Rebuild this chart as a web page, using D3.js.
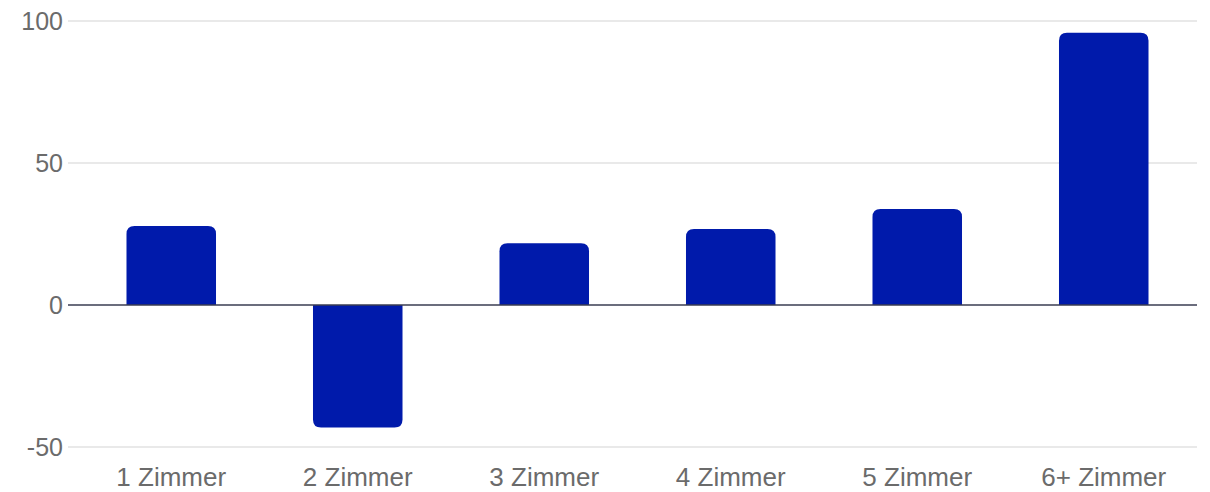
<!DOCTYPE html>
<html>
<head>
<meta charset="utf-8">
<script src="https://cdn.jsdelivr.net/npm/d3@7"></script>
<style>
  html, body { margin: 0; padding: 0; background: #fff; }
  svg { display: block; font-family: "Liberation Sans", Arial, sans-serif; }
</style>
</head>
<body>
<svg id="chart" width="1210" height="492"></svg>
<script>
// Change by number of rooms
const categories = ["1 Zimmer", "2 Zimmer", "3 Zimmer", "4 Zimmer", "5 Zimmer", "6+ Zimmer"];
const values = [27.8, -43.1, 21.7, 26.8, 33.8, 95.9];
const yTicks = [-50, 0, 50, 100];

const svg = d3.select("#chart");
const gridLeft = 68, plotLeft = 78, plotRight = 1197;
const y = d3.scaleLinear().domain([-50, 100]).range([447, 21]);
const x = d3.scaleBand().domain(categories).range([plotLeft, plotRight]).paddingInner(0.52).paddingOuter(0.26);

// gridlines
svg.append("g").selectAll("line").data(yTicks.filter(d => d !== 0)).join("line")
  .attr("x1", gridLeft).attr("x2", plotRight)
  .attr("y1", d => y(d)).attr("y2", d => y(d))
  .attr("stroke", "#e2e2e2").attr("stroke-width", 1.5);

// y tick labels
svg.append("g").selectAll("text").data(yTicks).join("text")
  .attr("x", 63).attr("y", d => y(d)).attr("dy", "0.36em")
  .attr("text-anchor", "end")
  .attr("fill", "#6b6b6b").attr("font-size", 25)
  .text(d => d);

// bars: rounded on the end away from zero
const r = 8;
function barPath(d) {
  const x0 = x(d.cat), w = x.bandwidth(), x1 = x0 + w;
  const yz = y(0), yv = y(d.val);
  if (d.val >= 0) {
    return `M${x0},${yz}V${yv + r}Q${x0},${yv} ${x0 + r},${yv}H${x1 - r}Q${x1},${yv} ${x1},${yv + r}V${yz}Z`;
  }
  return `M${x0},${yz}V${yv - r}Q${x0},${yv} ${x0 + r},${yv}H${x1 - r}Q${x1},${yv} ${x1},${yv - r}V${yz}Z`;
}
svg.append("g").selectAll("path")
  .data(categories.map((c, i) => ({ cat: c, val: values[i] })))
  .join("path")
  .attr("d", barPath)
  .attr("fill", "#001aab");

// zero line
svg.append("line")
  .attr("x1", gridLeft).attr("x2", plotRight)
  .attr("y1", y(0)).attr("y2", y(0))
  .attr("stroke", "#3a3d52").attr("stroke-width", 1.5);

// x axis labels
const xAxis = d3.axisBottom(x).tickSize(0).tickPadding(0);
const gx = svg.append("g").attr("transform", "translate(0,477)").call(xAxis);
gx.select(".domain").remove();
gx.selectAll("text")
  .attr("dy", "0.36em")
  .attr("fill", "#6b6b6b").attr("font-size", 26)
  .attr("font-family", "Liberation Sans, Arial, sans-serif");
</script>
</body>
</html>
